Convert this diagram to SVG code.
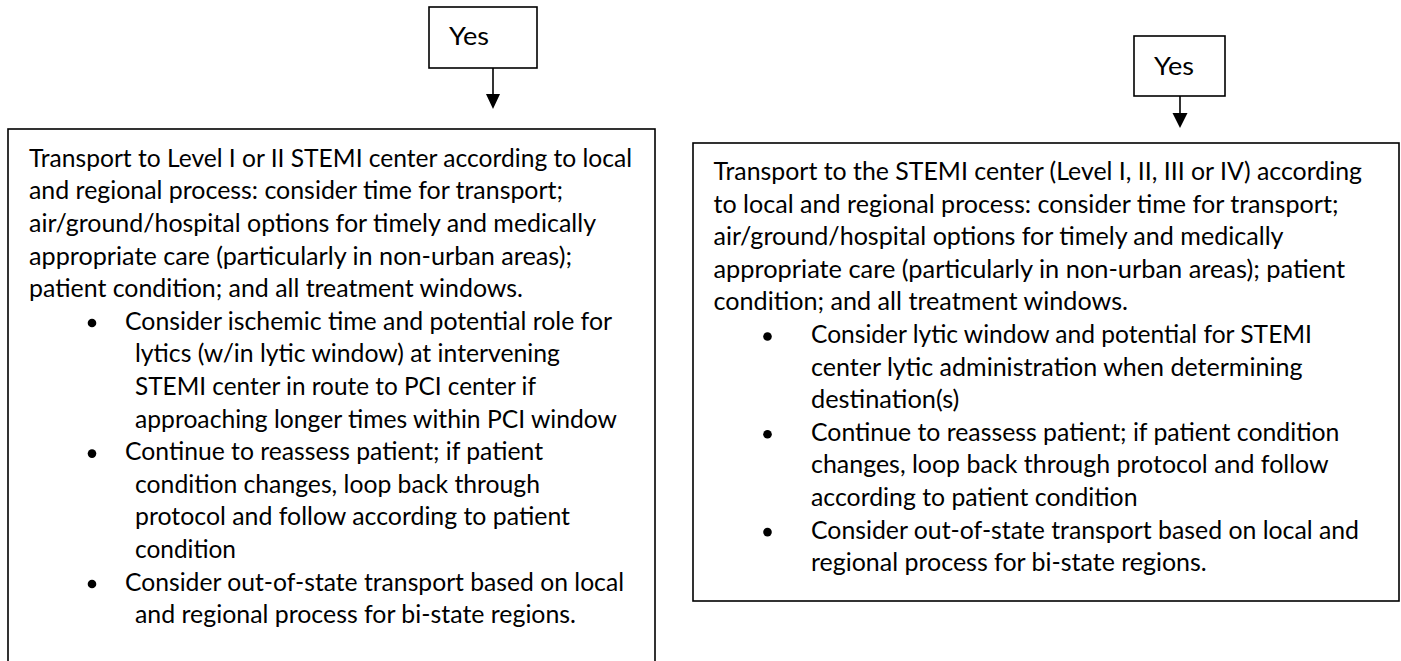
<svg xmlns="http://www.w3.org/2000/svg" width="1401" height="661" viewBox="0 0 1401 661">
<style>
.box{fill:#fff;stroke:#000;stroke-width:1.6}
.t{font-family:Lato,"Open Sans","Liberation Sans",sans-serif;font-size:24.5px;fill:#000}
.ln{stroke:#000;stroke-width:1.6;fill:none}
.ah{fill:#000}
.bul{fill:#000}
</style>
<rect width="1401" height="661" fill="#fff"/>
<g id="yes-left">
<rect class="box" x="429" y="7" width="108" height="61"/>
<text class="t" x="449" y="45" textLength="40" lengthAdjust="spacingAndGlyphs">Yes</text>
</g>
<g id="yes-right">
<rect class="box" x="1134" y="36" width="91" height="60"/>
<text class="t" x="1154" y="75" textLength="40" lengthAdjust="spacingAndGlyphs">Yes</text>
</g>
<g id="connectors">
<line class="ln" x1="493" y1="68" x2="493" y2="96"/>
<polygon class="ah" points="486,94 500,94 493,109"/>
<line class="ln" x1="1180" y1="96" x2="1180" y2="114"/>
<polygon class="ah" points="1172.5,113 1187.5,113 1180,128"/>
</g>
<g id="box-left">
<rect class="box" x="8" y="129" width="647" height="560"/>
<text class="t" x="29" y="166.7" textLength="603" lengthAdjust="spacingAndGlyphs">Transport to Level I or II STEMI center according to local</text>
<text class="t" x="29" y="199.3" textLength="534" lengthAdjust="spacingAndGlyphs">and regional process: consider time for transport;</text>
<text class="t" x="29" y="231.9" textLength="567" lengthAdjust="spacingAndGlyphs">air/ground/hospital options for timely and medically</text>
<text class="t" x="29" y="264.5" textLength="543" lengthAdjust="spacingAndGlyphs">appropriate care (particularly in non-urban areas);</text>
<text class="t" x="29" y="297.1" textLength="494" lengthAdjust="spacingAndGlyphs">patient condition; and all treatment windows.</text>
<circle class="bul" cx="92" cy="323" r="4.3"/>
<text class="t" x="125" y="329.7" textLength="487" lengthAdjust="spacingAndGlyphs">Consider ischemic time and potential role for</text>
<text class="t" x="135" y="362.3" textLength="425" lengthAdjust="spacingAndGlyphs">lytics (w/in lytic window) at intervening</text>
<text class="t" x="135" y="394.9" textLength="401" lengthAdjust="spacingAndGlyphs">STEMI center in route to PCI center if</text>
<text class="t" x="135" y="427.5" textLength="482" lengthAdjust="spacingAndGlyphs">approaching longer times within PCI window</text>
<circle class="bul" cx="92" cy="453.6" r="4.3"/>
<text class="t" x="125" y="460.1" textLength="418" lengthAdjust="spacingAndGlyphs">Continue to reassess patient; if patient</text>
<text class="t" x="135" y="492.7" textLength="405" lengthAdjust="spacingAndGlyphs">condition changes, loop back through</text>
<text class="t" x="135" y="525.3" textLength="435" lengthAdjust="spacingAndGlyphs">protocol and follow according to patient</text>
<text class="t" x="135" y="557.9" textLength="101" lengthAdjust="spacingAndGlyphs">condition</text>
<circle class="bul" cx="92" cy="584" r="4.3"/>
<text class="t" x="125" y="590.5" textLength="499" lengthAdjust="spacingAndGlyphs">Consider out-of-state transport based on local</text>
<text class="t" x="135" y="623.1" textLength="441" lengthAdjust="spacingAndGlyphs">and regional process for bi-state regions.</text>
</g>
<g id="box-right">
<rect class="box" x="693" y="143" width="706" height="458"/>
<text class="t" x="713.5" y="180" textLength="648.5" lengthAdjust="spacingAndGlyphs">Transport to the STEMI center (Level I, II, III or IV) according</text>
<text class="t" x="713.5" y="212.6" textLength="625" lengthAdjust="spacingAndGlyphs">to local and regional process: consider time for transport;</text>
<text class="t" x="713.5" y="245.2" textLength="570" lengthAdjust="spacingAndGlyphs">air/ground/hospital options for timely and medically</text>
<text class="t" x="713.5" y="277.8" textLength="631.5" lengthAdjust="spacingAndGlyphs">appropriate care (particularly in non-urban areas); patient</text>
<text class="t" x="713.5" y="310.4" textLength="414.5" lengthAdjust="spacingAndGlyphs">condition; and all treatment windows.</text>
<circle class="bul" cx="767.5" cy="336.5" r="4.3"/>
<text class="t" x="811" y="343" textLength="501" lengthAdjust="spacingAndGlyphs">Consider lytic window and potential for STEMI</text>
<text class="t" x="811" y="375.6" textLength="491.5" lengthAdjust="spacingAndGlyphs">center lytic administration when determining</text>
<text class="t" x="811" y="408.2" textLength="148.4" lengthAdjust="spacingAndGlyphs">destination(s)</text>
<circle class="bul" cx="767.5" cy="434.3" r="4.3"/>
<text class="t" x="811" y="440.8" textLength="528.4" lengthAdjust="spacingAndGlyphs">Continue to reassess patient; if patient condition</text>
<text class="t" x="811" y="473.4" textLength="517.6" lengthAdjust="spacingAndGlyphs">changes, loop back through protocol and follow</text>
<text class="t" x="811" y="506" textLength="326.5" lengthAdjust="spacingAndGlyphs">according to patient condition</text>
<circle class="bul" cx="767.5" cy="532.1" r="4.3"/>
<text class="t" x="811" y="538.6" textLength="548" lengthAdjust="spacingAndGlyphs">Consider out-of-state transport based on local and</text>
<text class="t" x="811" y="571.2" textLength="395.7" lengthAdjust="spacingAndGlyphs">regional process for bi-state regions.</text>
</g>
</svg>
